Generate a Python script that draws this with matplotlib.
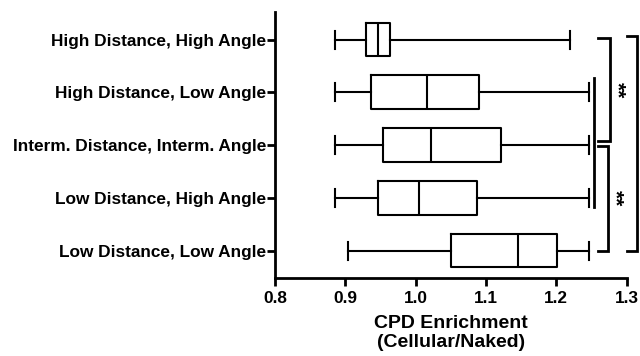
import numpy as np
import matplotlib
matplotlib.use('Agg')
from matplotlib import pyplot as plt

# Data
# ---------------------------
groups = ['High Distance, High Angle',
          'High Distance, Low Angle',
          'Interm. Distance, Interm. Angle',
          'Low Distance, High Angle',
          'Low Distance, Low Angle']
whis_lo = [0.886, 0.886, 0.886, 0.886, 0.904]
q1      = [0.930, 0.937, 0.953, 0.946, 1.050]
median  = [0.946, 1.016, 1.022, 1.005, 1.146]
q3      = [0.964, 1.090, 1.122, 1.087, 1.201]
whis_hi = [1.219, 1.246, 1.246, 1.246, 1.246]

plt.rcParams['font.family'] = ['Liberation Sans', 'DejaVu Sans']
plt.rcParams['font.weight'] = 'bold'

fig = plt.figure(figsize=(6.4, 3.56), dpi=100)
ax = fig.add_axes([0.4297, 0.219, 0.979 - 0.4297, 0.966 - 0.219])

stats = []
for i, g in enumerate(groups):
    stats.append(dict(label=g, whislo=whis_lo[i], q1=q1[i], med=median[i],
                      q3=q3[i], whishi=whis_hi[i], fliers=[]))

lw = 1.5
ax.bxp(stats, positions=range(len(groups)), widths=0.64, capwidths=0.34,
       orientation='horizontal', showfliers=False,
       boxprops=dict(color='black', linewidth=lw),
       medianprops=dict(color='black', linewidth=lw),
       whiskerprops=dict(color='black', linewidth=lw),
       capprops=dict(color='black', linewidth=lw))

ax.set_xlim(0.8, 1.3)
ax.set_ylim(4.52, -0.52)
ax.set_xticks([0.8, 0.9, 1.0, 1.1, 1.2, 1.3])
ax.set_xticklabels(['0.8', '0.9', '1.0', '1.1', '1.2', '1.3'])
ax.set_yticks(range(len(groups)))
ax.set_yticklabels(groups)
ax.tick_params(axis='both', labelsize=12.4, width=2, length=5.5, color='black')
ax.tick_params(axis='y', pad=1)
ax.tick_params(axis='x', pad=4)
for s in ['top', 'right']:
    ax.spines[s].set_visible(False)
for s in ['left', 'bottom']:
    ax.spines[s].set_linewidth(2)

ax.set_xlabel('CPD Enrichment\n(Cellular/Naked)', fontsize=14, fontweight='bold',
              linespacing=1.15, labelpad=6)

# Significance brackets
# ---------------------
blw = 2
ax.plot([1.254, 1.254], [0.72, 3.18], color='black', lw=blw, clip_on=False)

def bracket(x0, x1, y0, y1, text=None):
    ax.plot([x0, x1, x1, x0], [y0, y0, y1, y1], color='black', lw=blw,
            clip_on=False, solid_joinstyle='miter')
    if text:
        ax.text(x1 + 0.010, (y0 + y1) / 2, text, rotation=-90, ha='center',
                va='center', fontsize=15, fontweight='bold')

bracket(1.260, 1.276, -0.03, 1.93, '**')
bracket(1.260, 1.273, 2.02, 4.0, '**')
bracket(1.300, 1.3146, -0.07, 4.0)

fig.savefig('out.png', dpi=100)
